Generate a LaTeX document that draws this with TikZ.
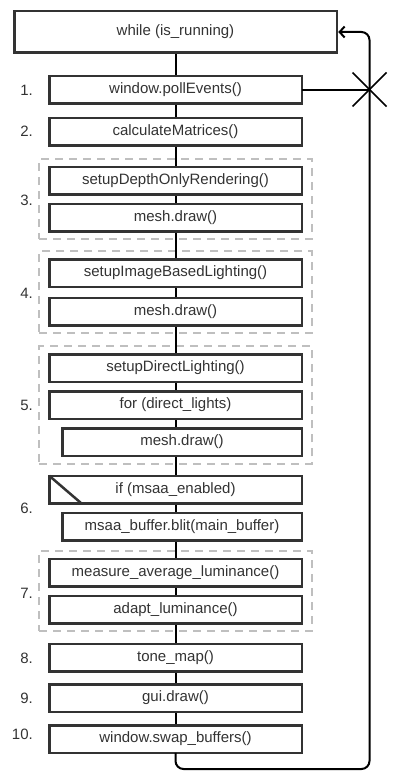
\documentclass[tikz,border=0pt]{standalone}
\usepackage{fontspec}
\setmainfont{Liberation Sans}
\usetikzlibrary{arrows.meta,fit,backgrounds}
\definecolor{boxline}{HTML}{333333}
\definecolor{groupline}{HTML}{BFBFBF}
\tikzset{
  stepbox/.style={draw=boxline, line width=2.5pt, fill=white, text=boxline, outer sep=0pt,
    inner sep=0pt, minimum width=252.5pt, minimum height=27.5pt, font=\fontsize{15}{18}\selectfont},
  subbox/.style={stepbox, minimum width=239.5pt},
  group/.style={draw=groupline, line width=2pt, dash pattern=on 8pt off 6pt,
    inner xsep=10pt, inner ysep=8pt},
  number/.style={anchor=east, text=boxline, inner sep=0pt, font=\fontsize{15}{18}\selectfont},
  flow/.style={line width=2pt, black}
}
\begin{document}
\begin{tikzpicture}[x=1pt, y=-1pt]
\useasboundingbox (0,0) rectangle (403,784);

\node[stepbox, minimum width=322.5pt, minimum height=41.5pt] (while) at (175.5,32) {while (is\_running)};
\node[stepbox] (poll) at (175.5,89.5) {window.pollEvents()};
\node[stepbox] (calc) at (175.5,131.5) {calculateMatrices()};
\node[stepbox] (depth) at (175.5,180.5) {setupDepthOnlyRendering()};
\node[stepbox] (meshA) at (175.5,217.5) {mesh.draw()};
\node[stepbox] (ibl) at (175.5,273) {setupImageBasedLighting()};
\node[stepbox] (meshB) at (175.5,311.5) {mesh.draw()};
\node[stepbox] (direct) at (175.5,368) {setupDirectLighting()};
\node[stepbox] (lights) at (175.5,405) {for (direct\_lights)};
\node[subbox] (meshC) at (182,442) {mesh.draw()};
\node[stepbox] (msaa) at (175.5,489.5) {if (msaa\_enabled)};
\node[subbox] (blit) at (182,526.5) {msaa\_buffer.blit(main\_buffer)};
\node[stepbox] (measure) at (175.5,572.5) {measure\_average\_luminance()};
\node[stepbox] (adapt) at (175.5,609.5) {adapt\_luminance()};
\node[stepbox] (tone) at (175.5,657.5) {tone\_map()};
\node[stepbox] (gui) at (175.5,698) {gui.draw()};
\node[stepbox] (swap) at (175.5,739) {window.swap\_buffers()};

\draw[draw=boxline, line width=2.5pt] (msaa.north west) -- ([xshift=32pt]msaa.south west);

\node[number] (n1) at (33,90) {1.};
\node[number] (n2) at (33,131) {2.};
\node[number] (n3) at (33,200) {3.};
\node[number] (n4) at (33,293) {4.};
\node[number] (n5) at (33,405) {5.};
\node[number] (n6) at (33,508) {6.};
\node[number] (n7) at (33,593) {7.};
\node[number] (n8) at (33,658) {8.};
\node[number] (n9) at (33,698) {9.};
\node[number] (n10) at (33,734) {10.};

\coordinate (loop) at (369.5,769);
\coordinate (cross) at (poll.east -| loop);

\begin{scope}[on background layer]
\node[group, fit=(depth)(meshA)] (g3) {};
\node[group, fit=(ibl)(meshB)] (g4) {};
\node[group, fit=(direct)(lights)(meshC)] (g5) {};
\node[group, fit=(measure)(adapt)] (g7) {};
\draw[flow] (while.south) -- (swap.south);
\end{scope}

\draw[flow, rounded corners=8pt, -{Straight Barb[length=5pt, width=11pt, line width=2pt]}]
  (swap.south) -- (swap.south |- loop) -- (loop) -- (loop |- while.east) -- ([xshift=1.5pt]while.east);
\draw[flow] (poll.east) -- (cross);
\draw[line width=1.5pt] ([shift={(-17,-17)}]cross) -- ([shift={(17,17)}]cross);
\draw[line width=1.5pt] ([shift={(-17,17)}]cross) -- ([shift={(17,-17)}]cross);
\end{tikzpicture}
\end{document}
